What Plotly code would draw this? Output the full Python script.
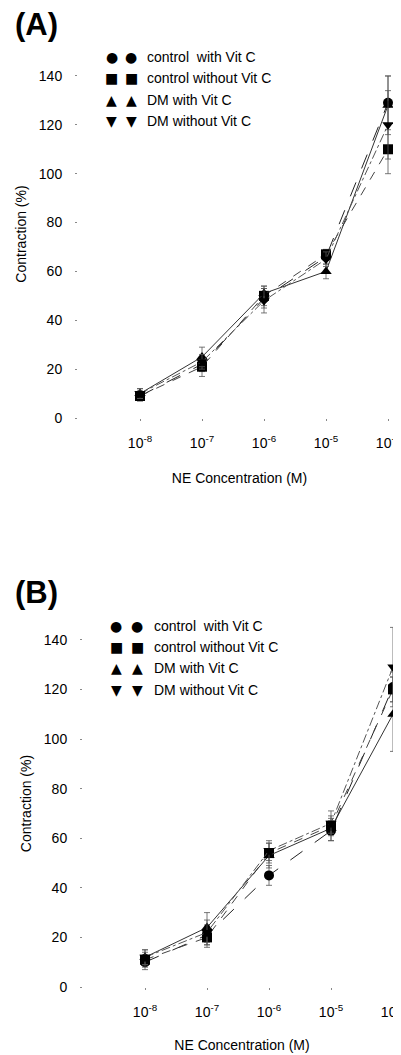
import plotly.graph_objects as go

# ---------------- data ----------------
conc_exp = [-8, -7, -6, -5, -4]
tick_text_a = ["10<sup>-8</sup>", "10<sup>-7</sup>", "10<sup>-6</sup>", "10<sup>-5</sup>", "10<sup>-4</sup>"]
tick_text_b = ["10<sup>-8</sup>", "10<sup>-7</sup>", "10<sup>-6</sup>", "10<sup>-5</sup>", "10<sup>-4</sup>"]
y_ticks = [0, 20, 40, 60, 80, 100, 120, 140]

series_names = ["control  with Vit C", "control without Vit C", "DM with Vit C", "DM without Vit C"]

# Panel A
a_ctrl_vitc = [9, 22, 49, 66, 129]
a_ctrl_novitc = [9, 21, 50, 67, 110]
a_dm_vitc = [10, 25, 51, 60, 128]
a_dm_novitc = [10, 23, 48, 65, 120]
a_ctrl_vitc_err = [2, 3, 4, 3, 11]
a_ctrl_novitc_err = [2, 4, 4, 2, 10]
a_dm_vitc_err = [2, 4, 3, 3, 12]
a_dm_novitc_err = [2, 3, 5, 3, 14]

# Panel B
b_ctrl_vitc = [10, 21, 45, 63, 121]
b_ctrl_novitc = [11, 20, 54, 65, 120]
b_dm_vitc = [12, 24, 53, 64, 110]
b_dm_novitc = [12, 22, 55, 66, 129]
b_ctrl_vitc_err = [3, 4, 4, 4, 6]
b_ctrl_novitc_err = [3, 4, 4, 3, 5]
b_dm_vitc_err = [3, 6, 5, 5, 15]
b_dm_novitc_err = [3, 5, 4, 5, 16]

# ---------------- styles ----------------
PAGE_OFF = 8                      # default body margin of the html page
W, H = 401 - PAGE_OFF, 1055 - PAGE_OFF
FONT = "Liberation Sans, Arial, sans-serif"
symbols = ["circle", "square", "triangle-up", "triangle-down"]
glyphs = ["●", "■", "▲", "▼"]
dashes = ["longdash", "dash", "solid", "dashdot"]
line_colors = ["#222222", "#444444", "#333333", "#555555"]

fig = go.Figure()

panels = [
    dict(xa="x", ya="y",
         vals=[a_ctrl_vitc, a_ctrl_novitc, a_dm_vitc, a_dm_novitc],
         errs=[a_ctrl_vitc_err, a_ctrl_novitc_err, a_dm_vitc_err, a_dm_novitc_err]),
    dict(xa="x2", ya="y2",
         vals=[b_ctrl_vitc, b_ctrl_novitc, b_dm_vitc, b_dm_novitc],
         errs=[b_ctrl_vitc_err, b_ctrl_novitc_err, b_dm_vitc_err, b_dm_novitc_err]),
]

for p in panels:
    for i in range(4):
        fig.add_trace(go.Scatter(
            x=conc_exp, y=p["vals"][i], xaxis=p["xa"], yaxis=p["ya"],
            mode="lines+markers", name=series_names[i], showlegend=False,
            line=dict(color=line_colors[i], width=1, dash=dashes[i]),
            marker=dict(symbol=symbols[i], size=10, color="black"),
            error_y=dict(type="data", array=p["errs"][i], color="#555555",
                         thickness=0.8, width=3),
            cliponaxis=False,
        ))

# pixel helpers (page pixels -> paper fraction)
def px_x(px):
    return (px - PAGE_OFF) / W

def px_y(py):
    return 1 - (py - PAGE_OFF) / H

axis_common = dict(showline=False, showgrid=False, zeroline=False,
                   ticks="outside", ticklen=2, tickwidth=1, tickcolor="#888888",
                   tickfont=dict(family=FONT, size=14, color="black"),
                   automargin=False)

a_left, a_bottom, a_top = 78, 418, 50
a_ypx_per_unit = 2.443
b_left, b_bottom, b_top = 83, 987, 620
b_ypx_per_unit = 2.48
decade_px = 62.0
page_right = 401

fig.update_layout(
    width=W, height=H,
    margin=dict(l=0, r=0, t=0, b=0),
    paper_bgcolor="white", plot_bgcolor="white",
    font=dict(family=FONT, size=14, color="black"),
    showlegend=False,
    xaxis=dict(domain=[px_x(a_left), 1], anchor="y",
               range=[-9, -9 + (page_right - a_left) / decade_px],
               tickvals=conc_exp, ticktext=tick_text_a, ticklabelstandoff=10,
               ticklabeloverflow="allow",
               title=dict(text="NE Concentration (M)", standoff=23,
                          font=dict(family=FONT, size=14)),
               **axis_common),
    yaxis=dict(domain=[px_y(a_bottom), px_y(a_top)], anchor="x",
               range=[0, (a_bottom - a_top) / a_ypx_per_unit],
               tickvals=y_ticks, ticklabelstandoff=10,
               title=dict(text="Contraction (%)", standoff=8,
                          font=dict(family=FONT, size=14)),
               **axis_common),
    xaxis2=dict(domain=[px_x(b_left), 1], anchor="y2",
                range=[-9, -9 + (page_right - b_left) / decade_px],
                tickvals=conc_exp, ticktext=tick_text_b, ticklabelstandoff=10,
                ticklabeloverflow="allow",
                title=dict(text="NE Concentration (M)", standoff=21,
                           font=dict(family=FONT, size=14)),
                **axis_common),
    yaxis2=dict(domain=[px_y(b_bottom), px_y(b_top)], anchor="x2",
                range=[0, (b_bottom - b_top) / b_ypx_per_unit],
                tickvals=y_ticks, ticklabelstandoff=10,
                title=dict(text="Contraction (%)", standoff=8,
                           font=dict(family=FONT, size=14)),
                **axis_common),
)

annotations = []
for label, ypx in [("(A)", 24), ("(B)", 592)]:
    annotations.append(dict(text=f"<b>{label}</b>", xref="paper", yref="paper",
                            x=px_x(13), y=px_y(ypx), xanchor="left", yanchor="middle",
                            showarrow=False, font=dict(family=FONT, size=31, color="black")))

legend_specs = [
    dict(m1=112, m2=131, tx=145, rows=[57, 78, 100, 121]),
    dict(m1=116, m2=137, tx=152, rows=[626, 647, 668, 690]),
]
for spec in legend_specs:
    for i, ypx in enumerate(spec["rows"]):
        for mx in (spec["m1"], spec["m2"]):
            annotations.append(dict(text=glyphs[i], xref="paper", yref="paper",
                                    x=px_x(mx), y=px_y(ypx), xanchor="center", yanchor="middle",
                                    showarrow=False,
                                    font=dict(family="DejaVu Sans", size=14, color="black")))
        annotations.append(dict(text=series_names[i], xref="paper", yref="paper",
                                x=px_x(spec["tx"]), y=px_y(ypx), xanchor="left", yanchor="middle",
                                showarrow=False, font=dict(family=FONT, size=14, color="black")))

fig.update_layout(annotations=annotations)

fig.write_html("out.html")
